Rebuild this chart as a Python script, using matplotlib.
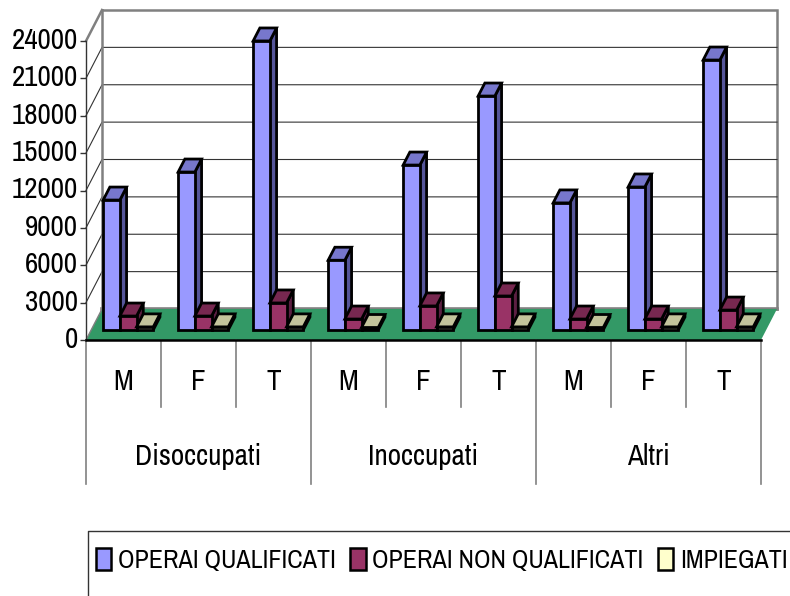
import matplotlib
matplotlib.use("Agg")
import matplotlib.pyplot as plt
from matplotlib.patches import Polygon, Patch
from matplotlib.transforms import ScaledTranslation

# Data
groups = ["Disoccupati", "Inoccupati", "Altri"]
sexes = ["M", "F", "T", "M", "F", "T", "M", "F", "T"]
operai_qualificati = [10430, 12680, 23200, 5600, 13240, 18780, 10200, 11480, 21670]
operai_non_qualificati = [1120, 1120, 2170, 880, 1930, 2730, 880, 880, 1600]
impiegati = [250, 250, 250, 200, 250, 250, 200, 250, 250]
y_ticks = [0, 3000, 6000, 9000, 12000, 15000, 18000, 21000, 24000]
series_names = ["OPERAI QUALIFICATI", "OPERAI NON QUALIFICATI", "IMPIEGATI"]

# front, top, side
colors = [("#9999FF", "#7777CC", "#555599"),
          ("#993366", "#772850", "#5C1F42"),
          ("#FFFFCC", "#C4C49C", "#8F8F70")]

plt.rcParams['font.family'] = ['Archivo Narrow', 'Liberation Sans', 'DejaVu Sans']

fig = plt.figure(figsize=(7.9, 5.96), dpi=100)
ax = fig.add_axes([86/790, (596-340)/596, 675/790, 299/596])
ax.set_xlim(0, 9)
ax.set_ylim(0, 24000)

# Depth of the 3D box in data units (16 px right, 31 px up)
depth_x = 16/75
depth_y = 31*24000/299

def proj(x, v, d=0.0):
    return (x + d*depth_x, v + d*depth_y)

# Walls and floor
ax.add_patch(Polygon([proj(0, 0, 1), proj(9, 0, 1), proj(9, 24000, 1), proj(0, 24000, 1)],
                     closed=False, fc="white", ec="#808080", lw=1.8, clip_on=False, zorder=1))
ax.add_patch(Polygon([proj(0, 0), proj(9, 0), proj(9, 0, 1), proj(0, 0, 1)],
                     fc="#339966", ec="none", clip_on=False, zorder=2))

# Gridlines on back and left wall
for t in y_ticks[1:-1]:
    ax.plot([0, depth_x, 9+depth_x], [t, t+depth_y, t+depth_y], color="#333333", lw=0.8,
            clip_on=False, zorder=1.5)
ax.plot([0, depth_x], [24000, 24000+depth_y], color="#808080", lw=1.8, clip_on=False, zorder=1.5)
ax.plot([depth_x, 9+depth_x], [depth_y, depth_y], color="#808080", lw=2.6, clip_on=False, zorder=1.6)
ax.plot([depth_x, depth_x], [depth_y, 24000+depth_y], color="#808080", lw=1.8, clip_on=False, zorder=1.6)
ax.plot([0, depth_x], [0, depth_y], color="#808080", lw=1.0, clip_on=False, zorder=2.1)

# Bars, left to right so the neighbour hides the side face
bar_w = 16.7/75
start = 12/75
d0, d1 = 10/31, 23/31

def draw_bar(x, v, cols, z):
    base = dict(ec="black", lw=2.0, joinstyle="miter", clip_on=False, zorder=z)
    x2 = x + bar_w
    ax.add_patch(Polygon([proj(x2, 0, d0), proj(x2, 0, d1), proj(x2, v, d1), proj(x2, v, d0)], fc=cols[2], **base))
    ax.add_patch(Polygon([proj(x, v, d0), proj(x2, v, d0), proj(x2, v, d1), proj(x, v, d1)], fc=cols[1], **base))
    ax.add_patch(Polygon([proj(x, 0, d0), proj(x2, 0, d0), proj(x2, v, d0), proj(x, v, d0)], fc=cols[0], **base))

z = 3
for i in range(9):
    vals = [operai_qualificati[i], operai_non_qualificati[i], impiegati[i]]
    for j in range(3):
        draw_bar(i + start + j*bar_w, vals[j], colors[j], z)
        z += 1

# Axes
for s in ["top", "right"]:
    ax.spines[s].set_visible(False)
ax.spines["left"].set_color("#333333")
ax.spines["left"].set_linewidth(1.0)
ax.spines["bottom"].set_color("black")
ax.spines["bottom"].set_linewidth(1.8)
ax.spines["bottom"].set_zorder(40)
ax.patch.set_visible(False)
ax.set_yticks(y_ticks)
ax.tick_params(axis="y", length=4.5, width=1.0, color="#333333", pad=1.5, labelsize=21)
# The reference has its numbers a little above the ticks
up = ScaledTranslation(0, 3/100, fig.dpi_scale_trans)
for lab in ax.get_yticklabels():
    lab.set_transform(lab.get_transform() + up)
ax.set_xticks([i + 0.5 for i in range(9)], sexes)
ax.tick_params(axis="x", length=0, pad=20, labelsize=21)

# Multi level category axis below the floor
xt = ax.get_xaxis_transform()
for i in range(10):
    low = -144/299 if i % 3 == 0 else -67/299
    ax.plot([i, i], [0, low], color="#808080", lw=1.2, transform=xt, clip_on=False)
for k, g in enumerate(groups):
    ax.text(3*k + 1.5, -116.5/299, g, transform=xt, ha="center", va="center", fontsize=21)

# Legend, its box runs off the figure at right and bottom
fig.add_artist(plt.Line2D([88/790, 88/790, 1], [0, (596-531)/596, (596-531)/596],
                          color="#333333", lw=1.0))
handles = [Patch(fc=c[0], ec="black", lw=1.8) for c in colors]
fig.legend(handles, series_names, loc="center left", bbox_to_anchor=(88/790, (596-560)/596),
           ncol=3, frameon=False, fontsize=18.7, handlelength=0.6, handleheight=0.95,
           handletextpad=0.25, columnspacing=0.55, borderpad=0, borderaxespad=0.3)

fig.savefig("out.png", dpi=100)
